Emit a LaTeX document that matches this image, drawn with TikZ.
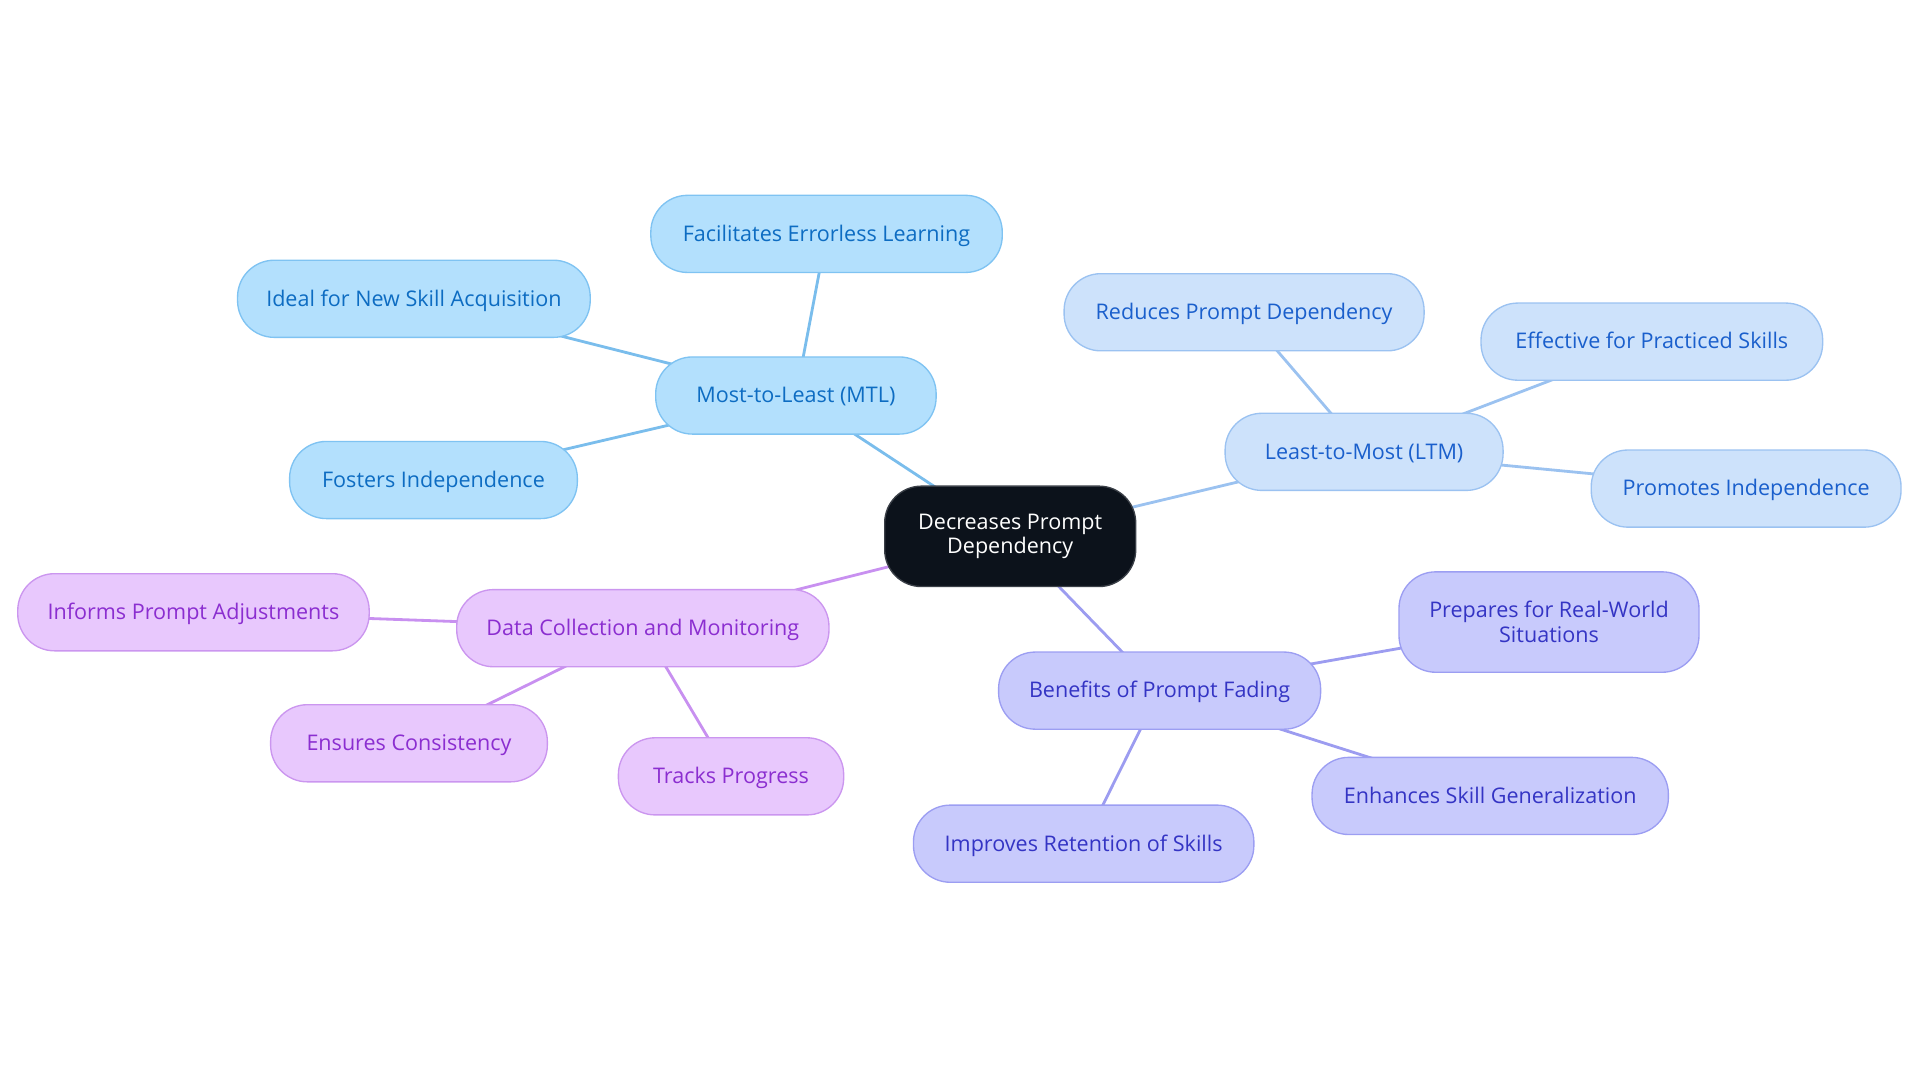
\documentclass[tikz,border=0pt]{standalone}
\usepackage{fontspec}
\setmainfont{Open Sans}
\usetikzlibrary{backgrounds}
\definecolor{mtlfill}{HTML}{B3E0FD}
\definecolor{mtldraw}{HTML}{7FC3F2}
\definecolor{mtltext}{HTML}{0D6CC2}
\definecolor{mtledge}{HTML}{7ABDEC}
\definecolor{ltmfill}{HTML}{CDE2FB}
\definecolor{ltmdraw}{HTML}{9BC2F1}
\definecolor{ltmtext}{HTML}{1A5FCC}
\definecolor{ltmedge}{HTML}{9BC2F0}
\definecolor{datfill}{HTML}{E8C8FD}
\definecolor{datdraw}{HTML}{CB96EF}
\definecolor{dattext}{HTML}{8B2ED0}
\definecolor{datedge}{HTML}{C890F0}
\definecolor{benfill}{HTML}{C8CAFC}
\definecolor{bendraw}{HTML}{9C9EF2}
\definecolor{bentext}{HTML}{3434C4}
\definecolor{benedge}{HTML}{9C9CF0}
\definecolor{cenfill}{HTML}{0C121B}
\definecolor{cendraw}{HTML}{3A3F47}
\tikzset{
  box/.style={rectangle, rounded corners=30pt, line width=1.1pt, minimum height=63pt,
    inner xsep=4pt, align=center, font=\fontsize{17.6}{20}\selectfont},
  single/.style={text height=12pt, text depth=0pt},
  mtl/.style={box, single, fill=mtlfill, draw=mtldraw, text=mtltext},
  ltm/.style={box, single, fill=ltmfill, draw=ltmdraw, text=ltmtext},
  dat/.style={box, single, fill=datfill, draw=datdraw, text=dattext},
  benbase/.style={box, fill=benfill, draw=bendraw, text=bentext},
  ben/.style={benbase, single},
  cen/.style={box, fill=cenfill, draw=cendraw, text=white, minimum height=82pt, font=\fontsize{17.6}{19}\selectfont},
  link/.style={line width=2.3pt},
}
\begin{document}
\begin{tikzpicture}[x=1pt,y=-1pt]
\useasboundingbox (0,0) rectangle (1568,884.4);
\node[cen, minimum width=205pt] (c) at (825,438) {Decreases Prompt\\Dependency};
% MTL
\node[mtl, minimum width=229pt] (mtl) at (650,323) {Most-to-Least (MTL)};
\node[mtl, minimum width=287pt] (m1) at (675,191) {Facilitates Errorless Learning};
\node[mtl, minimum width=288pt] (m2) at (338,244) {Ideal for New Skill Acquisition};
\node[mtl, minimum width=235pt] (m3) at (354,392) {Fosters Independence};
% LTM
\node[ltm, minimum width=227pt] (ltm) at (1114,369) {Least-to-Most (LTM)};
\node[ltm, minimum width=294pt] (l1) at (1016,255) {Reduces Prompt Dependency};
\node[ltm, minimum width=279pt] (l2) at (1349,279) {Effective for Practiced Skills};
\node[ltm, minimum width=253pt] (l3) at (1426,399) {Promotes Independence};
% Data
\node[dat, minimum width=304pt] (dat) at (525,513) {Data Collection and Monitoring};
\node[dat, minimum width=287pt] (d1) at (158,500) {Informs Prompt Adjustments};
\node[dat, minimum width=226pt] (d2) at (334,607) {Ensures Consistency};
\node[dat, minimum width=184pt] (d3) at (597,634) {Tracks Progress};
% Benefits
\node[ben, minimum width=263pt] (ben) at (947,564) {Benefits of Prompt Fading};
\node[benbase, minimum width=245pt, minimum height=82pt] (b1) at (1265,508) {Prepares for Real-World\\Situations};
\node[ben, minimum width=291pt] (b2) at (1217,650) {Enhances Skill Generalization};
\node[ben, minimum width=278pt] (b3) at (885,689) {Improves Retention of Skills};
\begin{scope}[on background layer]
\draw[link, mtledge] (c.center) -- (mtl.center);
\draw[link, mtledge] (mtl.center) -- (m1.center);
\draw[link, mtledge] (mtl.center) -- (m2.center);
\draw[link, mtledge] (mtl.center) -- (m3.center);
\draw[link, ltmedge] (c.center) -- (ltm.center);
\draw[link, ltmedge] (ltm.center) -- (l1.center);
\draw[link, ltmedge] (ltm.center) -- (l2.center);
\draw[link, ltmedge] (ltm.center) -- (l3.center);
\draw[link, datedge] (c.center) -- (dat.center);
\draw[link, datedge] (dat.center) -- (d1.center);
\draw[link, datedge] (dat.center) -- (d2.center);
\draw[link, datedge] (dat.center) -- (d3.center);
\draw[link, benedge] (c.center) -- (ben.center);
\draw[link, benedge] (ben.center) -- (b1.center);
\draw[link, benedge] (ben.center) -- (b2.center);
\draw[link, benedge] (ben.center) -- (b3.center);
\end{scope}
\end{tikzpicture}
\end{document}
